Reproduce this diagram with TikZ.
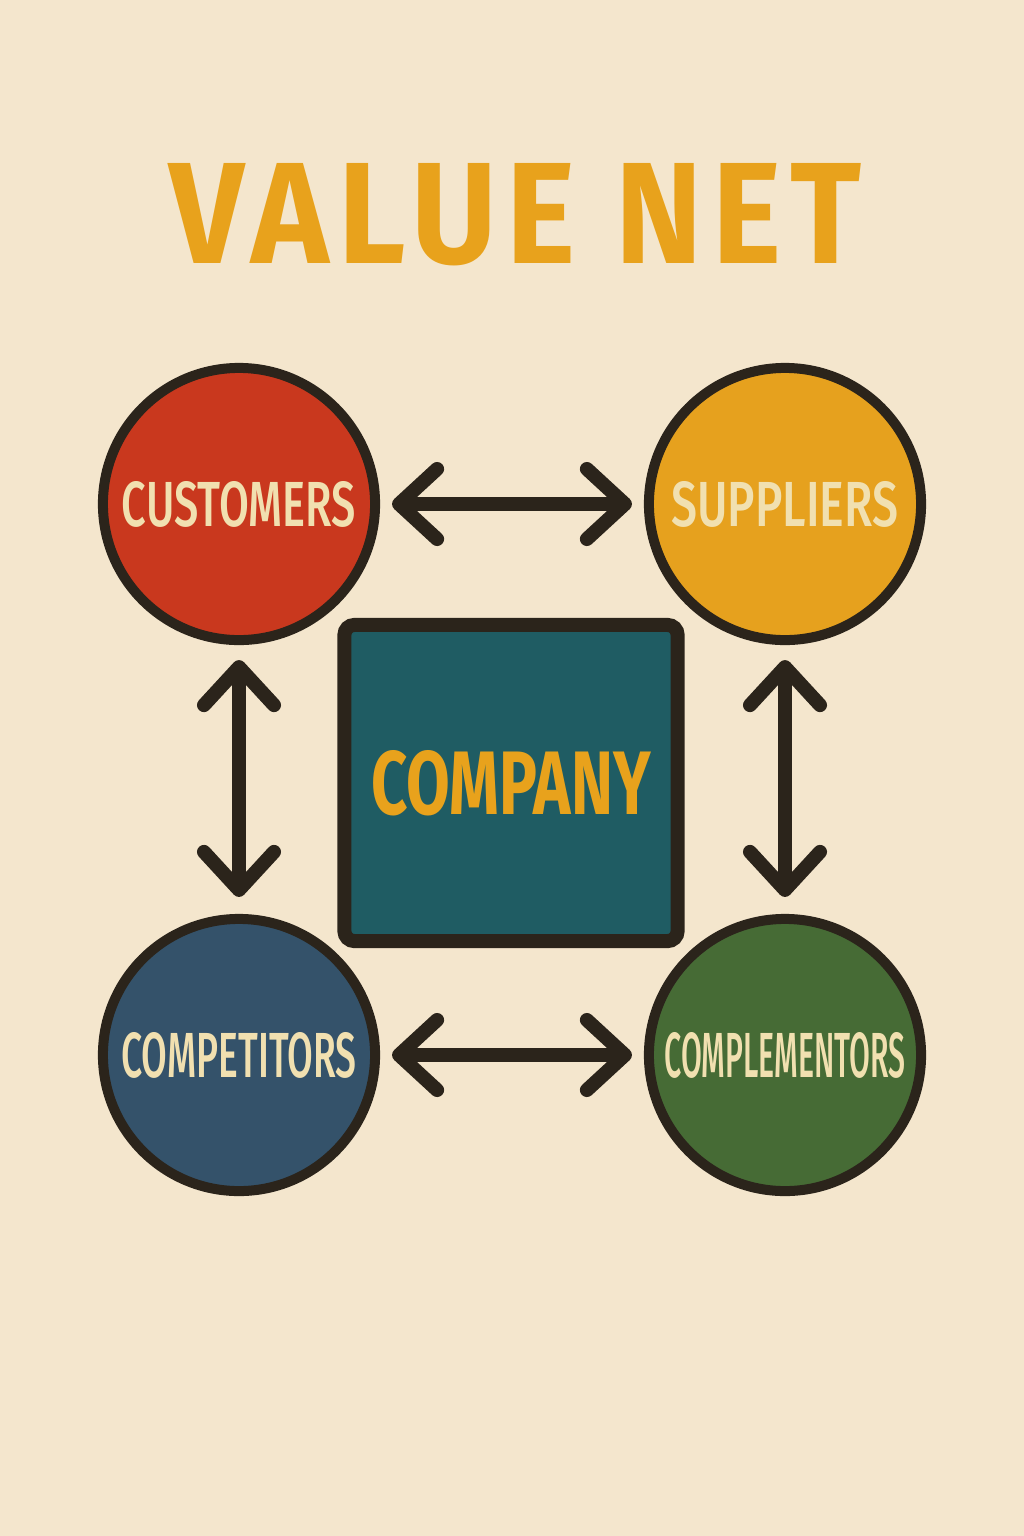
\documentclass[tikz,border=0pt]{standalone}
\usepackage{fontspec}
\setmainfont{Fira Sans}
\newfontfamily\labelfont{Fira Sans Medium}
\newfontfamily\titlefont{Fira Sans}[LetterSpace=7]
\usepackage{graphicx}
\usetikzlibrary{arrows.meta,backgrounds}
\definecolor{paper}{HTML}{F4E6CD}
\definecolor{ink}{HTML}{2B241B}
\definecolor{custred}{HTML}{C9381E}
\definecolor{suppyellow}{HTML}{E6A11E}
\definecolor{compblue}{HTML}{34526A}
\definecolor{complgreen}{HTML}{466B35}
\definecolor{hubteal}{HTML}{1F5C63}
\definecolor{cream}{HTML}{F1E0B0}
\definecolor{titleorange}{HTML}{E8A21C}
\newcommand{\fitlabel}[3]{\resizebox{#1}{#2}{\bfseries #3}}
\newcommand{\fitname}[3]{\resizebox{#1}{#2}{\labelfont #3}}

\begin{document}
\begin{tikzpicture}[x=0.01cm,y=-0.01cm,
  player/.style={circle,draw=ink,line width=0.1cm,minimum size=2.72cm,inner sep=0pt,text=cream},
  hub/.style={rectangle,draw=ink,line width=0.14cm,rounded corners=0.1cm,
    minimum width=3.33cm,minimum height=3.16cm,inner sep=0pt,fill=hubteal,text=titleorange},
  link/.style={draw=ink,line width=0.14cm,line cap=round,
    {Straight Barb[length=0.38cm,width=0.7cm,round]}-{Straight Barb[length=0.38cm,width=0.7cm,round]}}]
% background
\useasboundingbox (0,0) rectangle (1024,1536);
\fill[paper] (0,0) rectangle (1024,1536);

% title
\node[text=titleorange] (title) at (511,215) {\fitlabel{6.82cm}{1.0cm}{\titlefont\bfseries VALUE NET\kern-0.07em}};

% players
\node[player,fill=custred] (customers) at (239,504) {\fitname{2.34cm}{0.45cm}{CUSTOMERS}};
\node[player,fill=suppyellow] (suppliers) at (785,504) {\fitname{2.27cm}{0.45cm}{SUPPLIERS}};
\node[player,fill=compblue] (competitors) at (239,1055) {\fitname{2.35cm}{0.45cm}{COMPETITORS}};
\node[player,fill=complgreen] (complementors) at (785,1055) {\fitname{2.41cm}{0.45cm}{COMPLEMENTORS}};

% company
\node[hub] (company) at (511,783) {\fitlabel{2.79cm}{0.64cm}{COMPANY}};

% corner links
\begin{scope}[on background layer]
\draw[ink,line width=0.14cm] (customers.center) -- (company.center);
\draw[ink,line width=0.14cm] (suppliers.center) -- (company.center);
\draw[ink,line width=0.14cm] (competitors.center) -- (company.center);
\draw[ink,line width=0.14cm] (complementors.center) -- (company.center);
\end{scope}

% arrows
\draw[link,shorten <=0.12cm,shorten >=0.12cm] (customers) -- (suppliers);
\draw[link,shorten <=0.12cm,shorten >=0.12cm] (competitors) -- (complementors);
\draw[link,shorten <=0.15cm,shorten >=0.17cm] (customers) -- (competitors);
\draw[link,shorten <=0.15cm,shorten >=0.17cm] (suppliers) -- (complementors);
\end{tikzpicture}
\end{document}
